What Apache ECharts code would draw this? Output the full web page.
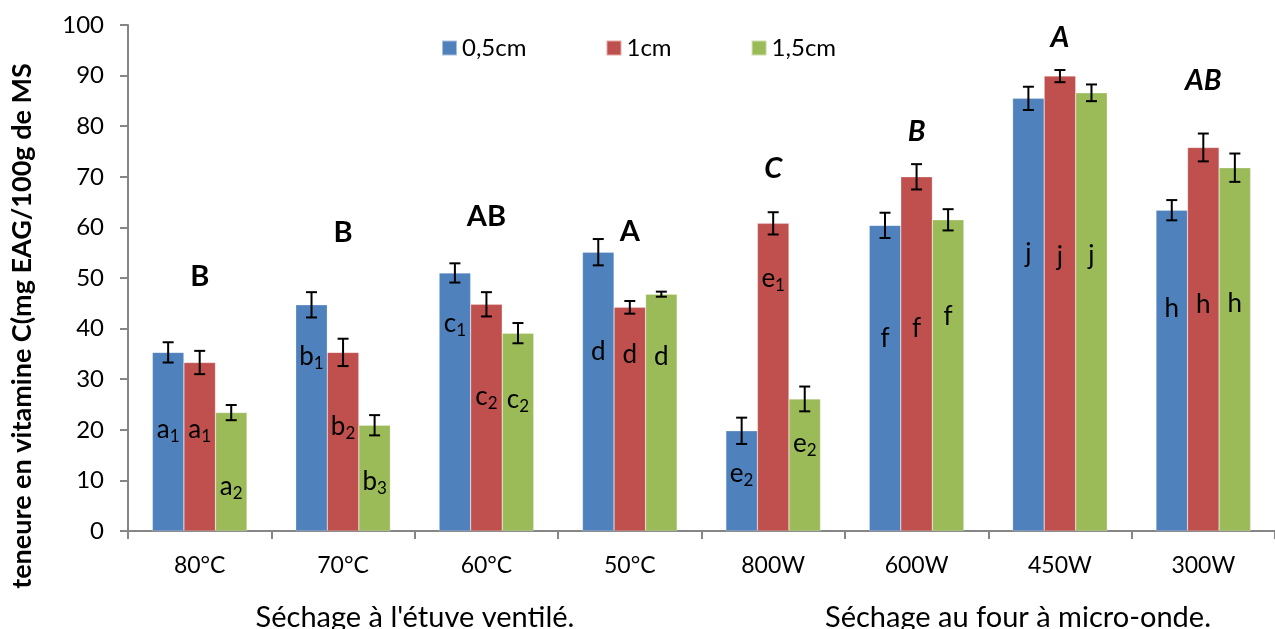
<!DOCTYPE html>
<html><head><meta charset="utf-8">
<script src="https://cdn.jsdelivr.net/npm/echarts@6/dist/echarts.min.js"></script>
<style>html,body{margin:0;padding:0;background:#fff}#c{width:1275px;height:629px}</style>
</head><body><div id="c"></div>
<script>
const categories = ['80°C','70°C','60°C','50°C','800W','600W','450W','300W'];
const seriesNames = ['0,5cm','1cm','1,5cm'];
const s05 = [35.3,44.7,51.0,55.1,19.8,60.4,85.5,63.4];
const s1  = [33.3,35.3,44.8,44.2,60.8,70.0,89.9,75.8];
const s15 = [23.4,20.9,39.1,46.8,26.1,61.5,86.6,71.8];
const e05 = [2.0,2.5,1.9,2.6,2.6,2.5,2.3,2.0];
const e1  = [2.3,2.7,2.4,1.25,2.2,2.5,1.2,2.75];
const e15 = [1.5,2.0,2.0,0.5,2.45,2.1,1.65,2.8];
const let05 = [['a','1'],['b','1'],['c','1'],['d',''],['e','2'],['f',''],['j',''],['h','']];
const let1  = [['a','1'],['b','2'],['c','2'],['d',''],['e','1'],['f',''],['j',''],['h','']];
const let15 = [['a','2'],['b','3'],['c','2'],['d',''],['e','2'],['f',''],['j',''],['h','']];
const letY05 = [20,34.4,41,35.4,11.4,38,54.9,44];
const letY1  = [20,20.6,26.5,34.8,49.9,40,54.2,44.7];
const letY15 = [8.8,9.7,25.9,34.4,17.3,42.4,54.5,45];
const groupLetters = ['B','B','AB','A','C','B','A','AB'];
const groupY = [50.2,58.9,62.1,59.2,71.7,78.9,97.6,89.1];
const groupItalic = [false,false,false,false,true,true,true,true];
const yTicks = {min:0, max:100, interval:10};
const yTitle = 'teneure en vitamine C(mg EAG/100g de MS';
const xGroupTitles = ["Séchage à l'étuve ventilé.", 'Séchage au four à micro-onde.'];

const colors = ['#4F81BD','#C0504D','#9BBB59'];
const FONT = 'Lato';
const BARW = 0.22;

const vals = [s05,s1,s15], errs = [e05,e1,e15], lets = [let05,let1,let15], letYs = [letY05,letY1,letY15];
const errData = [], letData = [];
for (let si=0; si<3; si++) {
  for (let i=0;i<categories.length;i++) {
    errData.push([i, vals[si][i], errs[si][i], si]);
    letData.push([i, letYs[si][i], si, lets[si][i][0], lets[si][i][1]]);
  }
}
const grpData = categories.map((c,i)=>[i, groupY[i], groupLetters[i], groupItalic[i]?1:0]);

const chart = echarts.init(document.getElementById('c'));
chart.setOption({
  animation:false,
  color: colors,
  textStyle:{fontFamily:FONT},
  grid:{left:128, right:-9, top:25, bottom:98, containLabel:false},
  legend:{data:seriesNames, left:436, top:31, padding:5, itemWidth:15, itemHeight:15, itemGap:79,
    textStyle:{fontSize:24, color:'#000', fontFamily:FONT}, icon:'rect'},
  xAxis:{type:'category', data:categories,
    axisLine:{lineStyle:{color:'#868686', width:2}},
    axisTick:{show:true, length:8, lineStyle:{color:'#868686', width:2}},
    axisLabel:{color:'#000', fontSize:23, margin:23, fontFamily:FONT}},
  yAxis:{type:'value', min:yTicks.min, max:yTicks.max, interval:yTicks.interval,
    axisLine:{show:true, lineStyle:{color:'#868686', width:2}},
    axisTick:{show:true, length:8, lineStyle:{color:'#868686', width:2}},
    splitLine:{show:false},
    axisLabel:{color:'#000', fontSize:24, margin:24, fontFamily:FONT}},
  graphic:[
    {type:'text', x:22, y:326, rotation:Math.PI/2,
     style:{text:yTitle, textAlign:'center', textVerticalAlign:'middle', fill:'#000', font:'bold 27px '+FONT}},
    {type:'text', x:415, y:618, style:{text:xGroupTitles[0], textAlign:'center', textVerticalAlign:'middle', fill:'#000', font:'29px '+FONT}},
    {type:'text', x:1018, y:618, style:{text:xGroupTitles[1], textAlign:'center', textVerticalAlign:'middle', fill:'#000', font:'29px '+FONT}}
  ],
  series:[
    ...seriesNames.map((n,si)=>({type:'bar', name:n, data:vals[si], barWidth:(BARW*100)+'%', barGap:'0%',
      itemStyle:{color:colors[si], borderColor:'rgba(255,255,255,0.5)', borderWidth:0.5}})),
    {type:'custom', name:'err', data:errData, z:5, silent:true, clip:false,
     encode:{x:0, y:1},
     renderItem:function(params, api){
       const x=api.value(0), v=api.value(1), e=api.value(2), si=api.value(3);
       const bw = api.size([1,0])[0]*BARW;
       const cx = api.coord([x,v])[0] + (si-1)*bw;
       const t = api.coord([x, v+e])[1], b = api.coord([x, v-e])[1];
       const hw = 5.5;
       const st = {stroke:'#000', lineWidth:2};
       return {type:'group', children:[
         {type:'line', shape:{x1:cx,y1:t,x2:cx,y2:b}, style:st},
         {type:'line', shape:{x1:cx-hw,y1:t,x2:cx+hw,y2:t}, style:st},
         {type:'line', shape:{x1:cx-hw,y1:b,x2:cx+hw,y2:b}, style:st}
       ]};
     }},
    {type:'custom', name:'letters', data:letData, z:6, silent:true, clip:false,
     encode:{x:0, y:1},
     renderItem:function(params, api){
       const i=params.dataIndex;
       const d=letData[i];
       const bw = api.size([1,0])[0]*BARW;
       const p = api.coord([d[0], d[1]]);
       const cx = p[0] + (d[2]-1)*bw;
       const txt = d[4] ? '{m|'+d[3]+'}{s|'+d[4]+'}' : '{m|'+d[3]+'}';
       return {type:'text', x:cx, y:p[1], style:{text:txt, align:'center', verticalAlign:'middle',
         rich:{m:{fontSize:26, fontFamily:FONT, fill:'#000', lineHeight:30},
               s:{fontSize:17, fontFamily:FONT, fill:'#000', padding:[14,0,0,0], lineHeight:30}}}};
     }},
    {type:'custom', name:'groups', data:grpData, z:6, silent:true, clip:false,
     encode:{x:0, y:1},
     renderItem:function(params, api){
       const d=grpData[params.dataIndex];
       const p = api.coord([d[0], d[1]]);
       return {type:'text', x:p[0], y:p[1], style:{text:d[2], align:'center', verticalAlign:'middle',
         fill:'#000', font:(d[3]?'italic ':'')+'bold 29px '+FONT}};
     }}
  ]
});
</script></body></html>
